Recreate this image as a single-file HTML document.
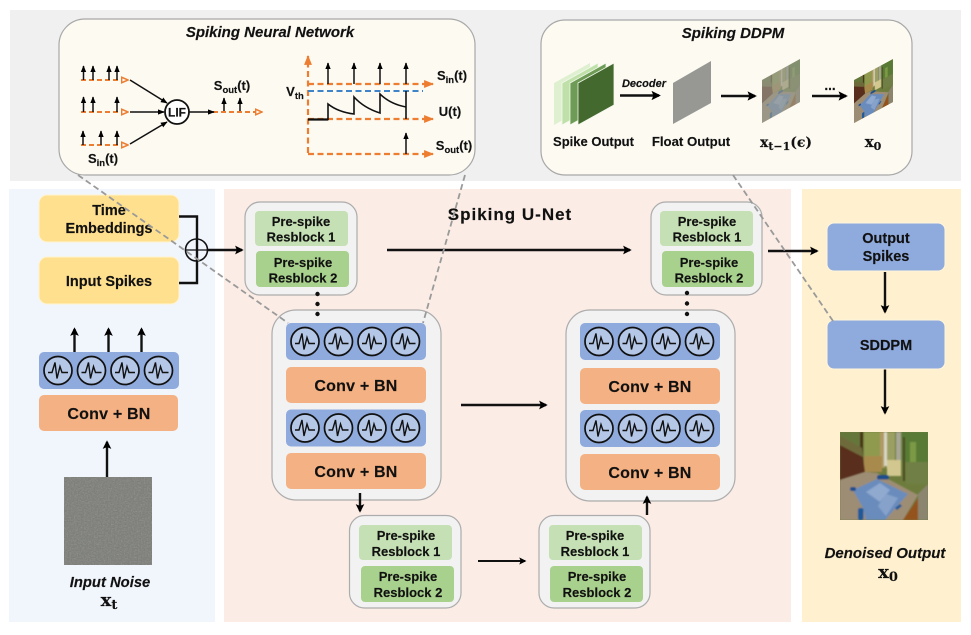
<!DOCTYPE html>
<html><head><meta charset="utf-8">
<style>
html,body{margin:0;padding:0;background:#fff}
svg{display:block}
text{font-family:"Liberation Sans",sans-serif;font-weight:700;fill:#111;text-anchor:middle;stroke:#111;stroke-width:.15}
.d{font-family:"DejaVu Serif","Liberation Serif",serif;font-weight:700}
.i{font-style:italic}
.r{font-size:13px}
.c{font-size:16px;letter-spacing:.2px}
.b{font-size:14.5px}
.o{stroke:#ed7d31;stroke-width:2;stroke-dasharray:5 3;fill:none}
.o2{stroke:#ed7d31;stroke-width:2.200;stroke-dasharray:6 3.500;fill:none}
.k{stroke:#111;fill:none}
.g{stroke:#9a9a9a;stroke-width:1.800;stroke-dasharray:6 3.500;fill:none}
</style></head><body>
<svg width="971" height="635" viewBox="0 0 971 635" xmlns="http://www.w3.org/2000/svg">
<defs>
<marker id="a" viewBox="0 0 10 10" refX="8" refY="5" markerWidth="3.600" markerHeight="3.600" orient="auto" markerUnits="strokeWidth"><path d="M0 0L10 5L0 10L2 5Z" fill="#000"/></marker>
<marker id="b" viewBox="0 0 10 10" refX="9" refY="5" markerWidth="4.500" markerHeight="4.500" orient="auto"><path d="M0 1L10 5L0 9Z" fill="#000"/></marker>
<marker id="oa" viewBox="0 0 10 10" refX="9" refY="5" markerWidth="4.500" markerHeight="4.500" orient="auto"><path d="M0 1L10 5L0 9Z" fill="#ed7d31"/></marker>
<marker id="oo" viewBox="0 0 10 10" refX="9" refY="5" markerWidth="4" markerHeight="4" orient="auto"><path d="M1 1.500L9 5L1 8.500Z" fill="#fdfaf2" stroke="#ed7d31" stroke-width="2"/></marker>
<filter id="bl" x="-10%" y="-10%" width="120%" height="120%"><feGaussianBlur stdDeviation=".7"/></filter>
<filter id="bl2" x="-20%" y="-20%" width="140%" height="140%"><feGaussianBlur stdDeviation="3"/></filter>
<clipPath id="pc"><rect width="88" height="88"/></clipPath>
<g id="n"><circle r="14" fill="#b4c7e7" stroke="#111" stroke-width="1.700"/><path d="M-10 2H-6L-3-8L-1 8L2-4L4 2H10" fill="none" stroke="#111" stroke-width="1.400"/></g>
<g id="st"><rect width="140" height="37" rx="5" fill="#8faadc"/><use href="#n" x="19" y="18.500"/><use href="#n" x="52.500" y="18.500"/><use href="#n" x="86" y="18.500"/><use href="#n" x="119.500" y="18.500"/></g>
<g id="ph"><g clip-path="url(#pc)">
<rect width="88" height="88" fill="#6d7c3c"/>
<g filter="url(#bl)">
<rect x="0" y="0" width="20" height="16" fill="#65763a"/>
<rect x="24" y="0" width="16" height="28" fill="#8f9a50"/>
<rect x="46" y="0" width="9" height="36" fill="#9c9f62"/>
<rect x="62" y="0" width="26" height="30" fill="#587a34"/>
<rect x="70" y="10" width="6" height="40" fill="#7c9a45"/>
<rect x="20" y="0" width="3" height="26" fill="#4a3518"/>
<rect x="40" y="0" width="5" height="36" fill="#b09a62"/>
<rect x="44" y="0" width="3" height="34" fill="#d8d6c4"/>
<rect x="56" y="0" width="5" height="42" fill="#a8a696"/>
<rect x="63" y="5" width="2" height="44" fill="#4b4a22"/>
<rect x="24" y="24" width="18" height="16" fill="#a98a4e"/>
<rect x="47" y="28" width="14" height="16" fill="#d1c78f"/>
<rect x="66" y="30" width="22" height="22" fill="#6f7f45"/>
<path d="M0 13L23 25L25 40L0 48Z" fill="#5a2f1f"/>
<path d="M0 4L22 16L23 25L0 13Z" fill="#6e6b3a"/>
<path d="M0 48L25 40L37 41L78 63L63 88H0Z" fill="#9e8d74"/>
<path d="M13 58L37 47L68 62L45 88H26L23 76Z" fill="#6b8cbc"/>
<path d="M26 60L40 51L50 58L40 70Z" fill="#8fa9cf"/>
<path d="M38 74L46 62L58 66L46 84Z" fill="#86a2cb"/>
<path d="M78 66L63 88H78Z" fill="#94531f"/>
<path d="M78 62L88 52V88H78Z" fill="#8b8570"/>
<rect x="37" y="43" width="12" height="4.500" rx="2" fill="#1d4e8c"/>
<rect x="18" y="76" width="5.500" height="12" rx="2" fill="#1f5a9a"/>
<rect x="10" y="55" width="6" height="4" rx="2" fill="#1d4e8c"/>
<path d="M55 76L60 72L62 74L57 78Z" fill="#1f5a9a"/>
</g></g></g>
<filter id="nz" x="0" y="0" width="100%" height="100%"><feTurbulence type="fractalNoise" baseFrequency=".7" numOctaves="2" seed="3"/><feColorMatrix values="0 0 0 0 .42  0 0 0 0 .43  0 0 0 0 .42  .5 .5 0 0 -.38"/></filter>
<clipPath id="pp"><path d="M0 0H88V88H0Z"/></clipPath>
</defs>

<rect width="971" height="635" fill="#fff"/>
<rect x="10" y="10" width="951" height="171" fill="#f0f0f0"/>
<rect x="9" y="189" width="206" height="433" fill="#f1f5fc"/>
<rect x="224" y="189" width="567" height="433" fill="#fbece5"/>
<rect x="802" y="189" width="159" height="433" fill="#fff1cf"/>

<!-- SNN panel -->
<rect x="59" y="19" width="416" height="156" rx="26" fill="#fdfaf2" stroke="#a8a8a8" stroke-width="1.200"/>
<text x="270" y="37" class="i" font-size="15">Spiking Neural Network</text>
<g class="o"><path d="M81 80H128" marker-end="url(#oo)"/><path d="M81 112H128" marker-end="url(#oo)"/><path d="M81 145H128" marker-end="url(#oo)"/><path d="M213 112H262" marker-end="url(#oo)"/></g>
<g class="k" stroke-width="1.500">
<path d="M83.500 80V66" marker-end="url(#b)"/><path d="M93 80V66" marker-end="url(#b)"/><path d="M109 80V66" marker-end="url(#b)"/><path d="M117 80V66" marker-end="url(#b)"/>
<path d="M83.500 112V97" marker-end="url(#b)"/><path d="M93 112V97" marker-end="url(#b)"/><path d="M117 112V97" marker-end="url(#b)"/>
<path d="M83 145V131" marker-end="url(#b)"/><path d="M101 145V131" marker-end="url(#b)"/><path d="M117 145V131" marker-end="url(#b)"/>
<path d="M224 111V98" marker-end="url(#b)"/><path d="M240 111V98" marker-end="url(#b)"/>
<path d="M130 80L167 103" marker-end="url(#b)"/><path d="M130 112H164" marker-end="url(#b)"/><path d="M130 144L167 122" marker-end="url(#b)"/><path d="M189 112H214" marker-end="url(#b)"/>
</g>
<circle cx="177" cy="112" r="12" fill="#fff" stroke="#111" stroke-width="1.800"/>
<text x="177" y="116.500" font-size="12">LIF</text>
<text x="232" y="90" font-size="13">S<tspan font-size="9.500" dy="3">out</tspan><tspan dy="-3">(t)</tspan></text>
<text x="103" y="163" font-size="13">S<tspan font-size="9.500" dy="3">in</tspan><tspan dy="-3">(t)</tspan></text>
<g class="o2"><path d="M308 153V56" marker-end="url(#oa)"/><path d="M308 84H433" marker-end="url(#oa)"/><path d="M308 119H433" marker-end="url(#oa)"/><path d="M308 154H433" marker-end="url(#oa)"/></g>
<path d="M308 91H423" stroke="#3f83c8" stroke-width="2" stroke-dasharray="6 3.500"/>
<g class="k" stroke-width="1.500"><path d="M328 84V63" marker-end="url(#b)"/><path d="M354 84V63" marker-end="url(#b)"/><path d="M380 84V63" marker-end="url(#b)"/><path d="M406 84V63" marker-end="url(#b)"/><path d="M406 154V133" marker-end="url(#b)"/></g>
<path d="M309 119.500H328V104Q338 112 354 114V97Q364 108 380 113V94Q390 104 406 107M406 91V119" class="k" stroke-width="1.600"/>
<path d="M308 119.500H328" stroke="#111" stroke-width="2.200"/>
<text x="452" y="80" font-size="13">S<tspan font-size="9.500" dy="3">in</tspan><tspan dy="-3">(t)</tspan></text>
<text x="450" y="116" font-size="13">U(t)</text>
<text x="454" y="150" font-size="13">S<tspan font-size="9.500" dy="3">out</tspan><tspan dy="-3">(t)</tspan></text>
<text x="295" y="96" font-size="13">V<tspan font-size="9.500" dy="3">th</tspan></text>

<!-- DDPM panel -->
<rect x="541" y="20" width="371" height="155" rx="24" fill="#fdfaf2" stroke="#a8a8a8" stroke-width="1.200"/>
<text x="733" y="38" class="i" font-size="15">Spiking DDPM</text>
<path d="M554 83L590 63V105L554 125Z" fill="#dff0d0"/>
<path d="M562 83L598 63V105L562 125Z" fill="#bfe0a8" stroke="#f3f8ec" stroke-width=".8"/>
<path d="M570 83L606 63V105L570 125Z" fill="#6e9c57" stroke="#f3f8ec" stroke-width=".8"/>
<path d="M578 83L614 63V105L578 125Z" fill="#44692f" stroke="#f3f8ec" stroke-width=".8"/>
<path d="M673 83L711 61V103L673 124Z" fill="#979894"/>
<path d="M762 80L800 59V102L762 123Z" fill="#9b9c90"/>
<g transform="matrix(.432 -.239 0 .49 762 80)" opacity=".35"><use href="#ph"/></g>
<g transform="matrix(.443 -.239 0 .49 854 80)"><use href="#ph"/></g>
<text x="644" y="87" class="i" font-size="11">Decoder</text>
<g class="k" stroke-width="2.600"><path d="M620 95.500H659" marker-end="url(#a)"/><path d="M721 96H755" marker-end="url(#a)"/><path d="M812 96H846" marker-end="url(#a)"/></g>
<text x="830" y="90" font-size="13.500">...</text>
<text x="593.500" y="146" font-size="13">Spike Output</text>
<text x="691" y="146" font-size="13.200">Float Output</text>
<text x="786" y="147" class="d" font-size="14">x<tspan font-size="11" dy="3">t−1</tspan><tspan dy="-3">(ϵ)</tspan></text>
<text x="873" y="147" class="d" font-size="15">x<tspan font-size="11" dy="3">0</tspan></text>

<!-- left -->
<rect x="39" y="195" width="140" height="47" rx="8" fill="#ffe08f" stroke="#fff3d0"/>
<rect x="39" y="257" width="140" height="47" rx="8" fill="#ffe08f" stroke="#fff3d0"/>
<text x="109" y="215" class="b">Time</text>
<text x="109" y="233" class="b">Embeddings</text>
<text x="109" y="286" class="b">Input Spikes</text>
<path d="M179 216.500H197V283H179" class="k" stroke-width="2.400"/>
<circle cx="196.500" cy="250" r="11" fill="none" stroke="#111" stroke-width="1.600"/>
<path d="M185 250H208" stroke="#111" stroke-width="1.300"/>
<path d="M207 250H242" class="k" stroke-width="2.400" marker-end="url(#a)"/>
<use href="#st" x="39" y="352"/>
<rect x="39" y="395" width="139" height="36" rx="5" fill="#f4b183"/>
<text x="109" y="419" class="c">Conv + BN</text>
<g class="k" stroke-width="2.400"><path d="M74.500 352V329" marker-end="url(#a)"/><path d="M108.500 352V329" marker-end="url(#a)"/><path d="M141.500 352V329" marker-end="url(#a)"/><path d="M107 477V442" marker-end="url(#a)"/></g>
<rect x="64" y="477" width="88" height="88" fill="#7d7e79"/>
<rect x="64" y="477" width="88" height="88" filter="url(#nz)"/>
<text x="110" y="587" class="i" font-size="14.800">Input Noise</text>
<text x="109" y="606" class="d" font-size="18">x<tspan font-size="13" dy="3">t</tspan></text>

<!-- U-Net -->
<text x="510" y="220" font-size="17" style="letter-spacing:1px">Spiking U-Net</text>
<g fill="#f2f2f2" stroke="#acacac" stroke-width="1.200">
<rect x="245" y="202" width="112" height="93" rx="15"/>
<rect x="651" y="202" width="111" height="93" rx="15"/>
<rect x="349.500" y="515.500" width="111.500" height="92.500" rx="15"/>
<rect x="539" y="515.500" width="111" height="92.500" rx="15"/>
<rect x="272" y="310" width="169" height="190" rx="24"/>
<rect x="566" y="310" width="169" height="191" rx="24"/>
</g>
<g>
<rect x="255" y="211" width="93" height="35" rx="4" fill="#c5e0b4"/><rect x="256" y="251" width="93" height="36" rx="4" fill="#a9d18e"/>
<rect x="660" y="211" width="93" height="35" rx="4" fill="#c5e0b4"/><rect x="662" y="251" width="92" height="36" rx="4" fill="#a9d18e"/>
<rect x="359" y="525" width="93" height="35" rx="4" fill="#c5e0b4"/><rect x="361" y="566" width="93" height="36" rx="4" fill="#a9d18e"/>
<rect x="549" y="525" width="93" height="35" rx="4" fill="#c5e0b4"/><rect x="550" y="566" width="93" height="36" rx="4" fill="#a9d18e"/>
</g>
<text x="301" y="226" class="r">Pre-spike</text><text x="301" y="241.500" class="r">Resblock 1</text>
<text x="303" y="267" class="r">Pre-spike</text><text x="303" y="282.500" class="r">Resblock 2</text>
<text x="707" y="226" class="r">Pre-spike</text><text x="707" y="241.500" class="r">Resblock 1</text>
<text x="709" y="267" class="r">Pre-spike</text><text x="709" y="282.500" class="r">Resblock 2</text>
<text x="406" y="540" class="r">Pre-spike</text><text x="406" y="556" class="r">Resblock 1</text>
<text x="408" y="581" class="r">Pre-spike</text><text x="408" y="597" class="r">Resblock 2</text>
<text x="595" y="540" class="r">Pre-spike</text><text x="595" y="556" class="r">Resblock 1</text>
<text x="597" y="581" class="r">Pre-spike</text><text x="597" y="597" class="r">Resblock 2</text>
<use href="#st" x="286" y="323"/>
<rect x="286" y="367" width="140" height="36" rx="5" fill="#f4b183"/>
<use href="#st" x="286" y="409.500"/>
<rect x="286" y="453" width="140" height="36" rx="5" fill="#f4b183"/>
<text x="356" y="391" class="c">Conv + BN</text><text x="356" y="477" class="c">Conv + BN</text>
<use href="#st" x="580" y="323"/>
<rect x="580" y="368" width="140" height="36" rx="5" fill="#f4b183"/>
<use href="#st" x="580" y="410"/>
<rect x="580" y="454" width="140" height="36" rx="5" fill="#f4b183"/>
<text x="650" y="392" class="c">Conv + BN</text><text x="650" y="478" class="c">Conv + BN</text>
<g fill="#111"><circle cx="317.500" cy="294" r="2.200"/><circle cx="317.500" cy="304" r="2.200"/><circle cx="317.500" cy="314" r="2.200"/><circle cx="687" cy="293" r="2.200"/><circle cx="687" cy="303.500" r="2.200"/><circle cx="687" cy="314" r="2.200"/></g>
<g class="k" stroke-width="2.400">
<path d="M387 250H630" marker-end="url(#a)"/>
<path d="M461 405H546" marker-end="url(#a)"/>
<path d="M360 493V511" marker-end="url(#a)"/>
<path d="M478 561H525" stroke-width="2" marker-end="url(#a)"/>
<path d="M647 515V497" marker-end="url(#a)"/>
<path d="M768 251H817" marker-end="url(#a)"/>
<path d="M885 272V312" marker-end="url(#a)"/>
<path d="M885 369V413" marker-end="url(#a)"/>
</g>

<!-- right -->
<rect x="827" y="223" width="118" height="48" rx="7" fill="#8faadc" stroke="#fff5dc"/>
<rect x="827" y="320" width="118" height="49" rx="7" fill="#8faadc" stroke="#fff5dc"/>
<text x="886" y="243" class="b">Output</text><text x="886" y="261" class="b">Spikes</text>
<text x="886" y="350" class="b">SDDPM</text>
<use href="#ph" x="840" y="432"/>
<text x="885" y="558" class="i" font-size="15">Denoised Output</text>
<text x="888" y="578" class="d" font-size="18">x<tspan font-size="13" dy="3">0</tspan></text>

<!-- dashed guides -->
<path d="M78 175L288 323" class="g"/>
<path d="M465 175L423 323" class="g"/>
<path d="M733 175L833 321" class="g"/>
</svg>
</body></html>
